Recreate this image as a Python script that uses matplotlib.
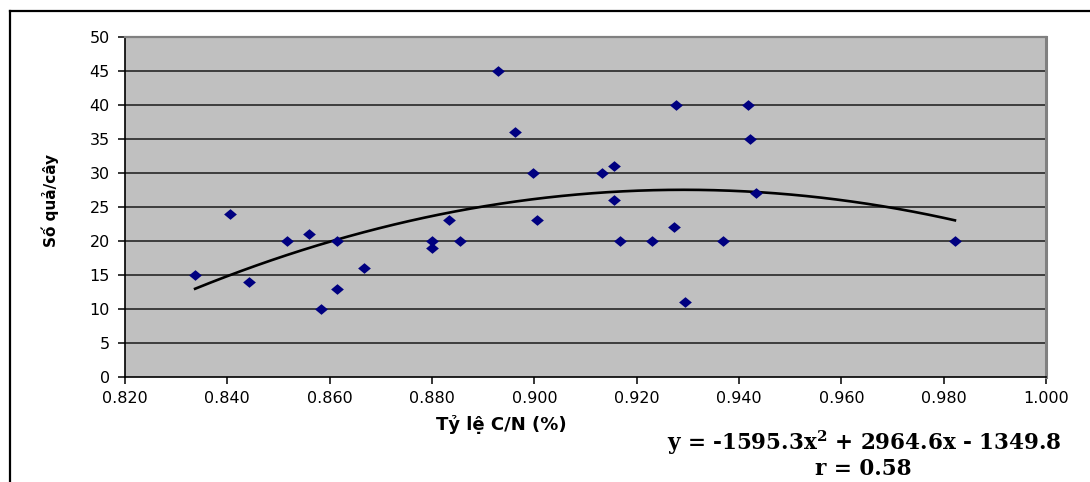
import numpy as np
import matplotlib
matplotlib.use("Agg")
import matplotlib.pyplot as plt
from matplotlib.lines import Line2D

# ---- data ----
cn_ratio = [0.8337, 0.8405, 0.8442, 0.8517, 0.8559, 0.8614, 0.8614, 0.8583,
            0.8667, 0.8800, 0.8800, 0.8834, 0.8854, 0.8929, 0.8963, 0.8997,
            0.9005, 0.9132, 0.9155, 0.9155, 0.9168, 0.9229, 0.9273, 0.9276,
            0.9294, 0.9368, 0.9418, 0.9422, 0.9434, 0.9822]
fruits = [15, 24, 14, 20, 21, 20, 13, 10,
          16, 20, 19, 23, 20, 45, 36, 30,
          23, 30, 31, 26, 20, 20, 22, 40,
          11, 20, 40, 35, 27, 20]
trend_coef = [-1595.3, 2964.6, -1349.8]
x_ticks = [0.82, 0.84, 0.86, 0.88, 0.90, 0.92, 0.94, 0.96, 0.98, 1.00]
y_ticks = [0, 5, 10, 15, 20, 25, 30, 35, 40, 45, 50]
x_label = "Tỷ lệ C/N (%)"
y_label = "Số quả/cây"
eq_text = r"y = -1595.3x$^{\mathbf{2}}$ + 2964.6x - 1349.8"
r_text = "r = 0.58"

plt.rcParams['font.family'] = ['DejaVu Sans']
plt.rcParams['mathtext.fontset'] = 'dejavuserif'

W, H = 1090, 482
fig = plt.figure(figsize=(W / 100, H / 100), dpi=100)
fig.patch.set_facecolor('white')

L, R, T, B = 125, 1046, 36.7, 377
ax = fig.add_axes([L / W, 1 - B / H, (R - L) / W, (B - T) / H])
ax.set_facecolor('#C0C0C0')
ax.set_xlim(0.82, 1.00)
ax.set_ylim(0, 50)

# gridlines
for yv in y_ticks[1:-1]:
    ax.axhline(yv, color='#1a1a1a', lw=1.1, zorder=1)

# trendline
xs = np.linspace(min(cn_ratio), max(cn_ratio), 200)
ys = np.polyval(trend_coef, xs)
ax.plot(xs, ys, color='black', lw=1.9, zorder=3)

# diamond markers (slightly wider than tall)
diamond = [(-1.2, 0), (0, 1), (1.2, 0), (0, -1), (-1.2, 0)]
ax.plot(cn_ratio, fruits, linestyle='none', marker=diamond, markersize=9.2,
        color='#000080', markeredgewidth=0, zorder=4)

ax.set_xticks(x_ticks)
ax.set_xticklabels([f"{v:.3f}" for v in x_ticks])
ax.set_yticks(y_ticks)
ax.set_yticklabels([str(v) for v in y_ticks])
ax.tick_params(axis='both', direction='out', length=5, width=1.1,
               labelsize=11.5, colors='black')
ax.tick_params(axis='y', pad=6)
ax.tick_params(axis='x', pad=5)

for s in ['left', 'bottom']:
    ax.spines[s].set_color('black')
    ax.spines[s].set_linewidth(1.2)
ax.spines['top'].set_color('#808080')
ax.spines['top'].set_linewidth(1.6)
ax.spines['right'].set_color('#808080')
ax.spines['right'].set_linewidth(2.2)

# axis titles
fig.text(501 / W, 1 - 425 / H, x_label, ha='center', va='center',
         fontsize=13, fontweight='bold')
fig.text(50 / W, 1 - 200 / H, y_label, ha='center', va='center',
         rotation=90, fontsize=11, fontweight='bold')

# equation text
fig.text(864 / W, 1 - 450 / H, eq_text, ha='center', va='baseline',
         fontsize=15.5, fontweight='bold', family=['DejaVu Serif'])
fig.text(863 / W, 1 - 475 / H, r_text, ha='center', va='baseline',
         fontsize=15.5, fontweight='bold', family=['DejaVu Serif'])

# outer chart frame (left and top edges visible)
fig.add_artist(Line2D([9.5 / W, 9.5 / W], [0, 1 - 11 / H], color='black',
                      lw=1.6, transform=fig.transFigure))
fig.add_artist(Line2D([9.5 / W, 1], [1 - 11 / H, 1 - 11 / H], color='black',
                      lw=1.6, transform=fig.transFigure))

fig.savefig('out.png', dpi=100, facecolor='white')
